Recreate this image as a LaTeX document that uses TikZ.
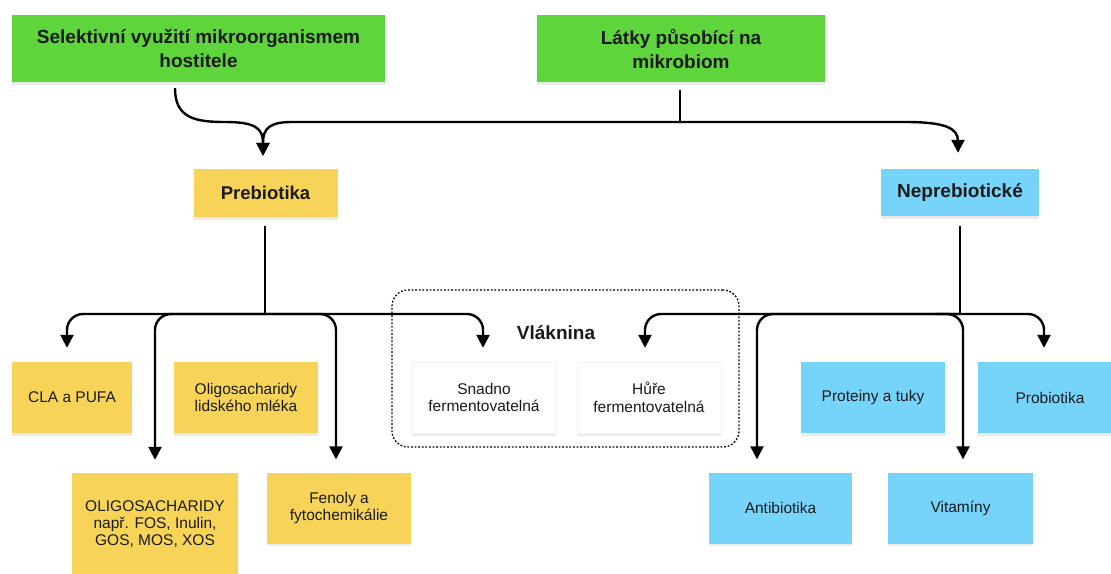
\documentclass[tikz,border=0pt]{standalone}
\usepackage{fontspec}
\setmainfont{Liberation Sans}
\usetikzlibrary{arrows.meta,calc,shadows}
\definecolor{boxgreen}{HTML}{5ED53B}
\definecolor{boxyellow}{HTML}{F7D458}
\definecolor{boxblue}{HTML}{76D4FA}
\definecolor{txt}{HTML}{1A1A1A}
\begin{document}
\begin{tikzpicture}[x=1pt,y=-1pt,
  base/.style={inner sep=0pt, align=center, text=txt,
    drop shadow={opacity=0.16, shadow xshift=0pt, shadow yshift=-2.5pt}},
  gbox/.style={base, fill=boxgreen, font=\bfseries\fontsize{19}{24}\selectfont},
  hybox/.style={base, fill=boxyellow, font=\bfseries\fontsize{18.5}{22}\selectfont},
  hbbox/.style={base, fill=boxblue, font=\bfseries\fontsize{19}{22}\selectfont},
  ybox/.style={base, fill=boxyellow, font=\fontsize{15.5}{17.5}\selectfont, minimum width=144pt, minimum height=71pt},
  bbox/.style={base, fill=boxblue, font=\fontsize{15.5}{17.5}\selectfont, minimum width=144pt, minimum height=71pt},
  wbox/.style={base, fill=white, draw=black!5, font=\fontsize{15.5}{17.5}\selectfont, minimum width=144pt, minimum height=71pt},
  ln/.style={line width=2.4pt, draw=black},
  arr/.style={ln, -{Triangle[length=13pt,width=13pt]}},
  rc/.style={rounded corners=16pt}
]
\fill[white] (0,0) rectangle (1111,573);
\useasboundingbox (0,0) rectangle (1111,573);

% top boxes
\node[gbox, minimum width=373pt, minimum height=67pt] (g1) at (198.5,48.5) {Selektivní využití mikroorganismem\\hostitele};
\node[gbox, minimum width=288pt, minimum height=67pt] (g2) at (681,48.5) {Látky působící na\\mikrobiom};

% second level
\node[hybox, minimum width=144pt, minimum height=48pt] (prebio) at (265.5,193) {Prebiotika};
\node[hbbox, minimum width=158pt, minimum height=47pt] (neprebio) at (960,192.5) {Neprebiotické};

% fibre group
\node[draw=black, dash pattern=on 1.8pt off 1.8pt, line width=1.3pt, rounded corners=16pt,
      minimum width=347pt, minimum height=157pt, inner sep=0pt] (fib) at (565.5,368.5) {};
\node[font=\bfseries\fontsize{19}{23}\selectfont, text=txt] (vl) at (556,333) {Vláknina};

% third level
\node[ybox, minimum width=120pt] (cla) at (72,397.5) {CLA a PUFA};
\node[ybox] (lidske) at (246,397.5) {Oligosacharidy\\lidského mléka};
\node[wbox] (snadno) at (484,397.5) {Snadno\\fermentovatelná};
\node[wbox] (hure) at (649,397.5) {Hůře\\fermentovatelná};
\node[bbox] (prot) at (873,397.5) {Proteiny a tuky};
\node[bbox] (probio) at (1050,397.5) {Probiotika};

% fourth level
\node[ybox, minimum width=166pt, minimum height=102pt, font=\fontsize{15.5}{17}\selectfont] (oligo) at (155,524) {OLIGOSACHARIDY\\např. FOS, Inulin,\\GOS, MOS, XOS};
\node[ybox] (fenoly) at (339,508) {Fenoly a\\fytochemikálie};
\node[bbox, minimum width=143pt] (anti) at (780.5,508) {Antibiotika};
\node[bbox, minimum width=145pt] (vit) at (960.5,508) {Vitamíny};

% junctions
\coordinate (j1) at (680,122);
\coordinate (pj) at (265,314);
\coordinate (nj) at (960,314);

% top connectors
\draw[ln] ($(g2.south)+(-1,8)$) -- (j1);
\draw[arr] ($(g1.south)+(-23.5,6)$) .. controls (175,118) and (195,122) .. (225,122)
  .. controls (255,122) and (263,128) .. (263,143) -- ($(prebio.north)+(-2.5,-13)$);
\draw[arr] (j1) -- (292,122) .. controls (270,122) and (263,128) .. (263,143)
  -- ($(prebio.north)+(-2.5,-13)$);
\draw[arr] (j1) -- (905,122) .. controls (945,122) and (958,128) .. (958,141)
  -- ($(neprebio.north)+(-2,-16)$);

% prebiotika branches
\draw[ln] ($(prebio.south)+(-0.5,9)$) -- (pj);
\draw[arr, rc] (pj) -| ($(cla.north)+(-5,-14)$);
\draw[arr, rc] (pj) -| ($(oligo.north)+(0,-13)$);
\draw[arr, rc] (pj) -| ($(fenoly.north)+(-3,-13)$);
\draw[arr, rc] (pj) -| ($(snadno.north)+(-1,-14)$);

% neprebioticke branches
\draw[ln] ($(neprebio.south)+(0,10)$) -- (nj);
\draw[arr, rc] (nj) -| ($(hure.north)+(-4,-14)$);
\draw[arr, rc] (nj) -| ($(anti.north)+(-23.5,-13)$);
\draw[arr, rc] ($(nj)+(-25,0)$) -| ($(vit.north)+(2.5,-13)$);
\draw[arr, rc] (nj) -| ($(probio.north)+(-6,-14)$);
\end{tikzpicture}
\end{document}
